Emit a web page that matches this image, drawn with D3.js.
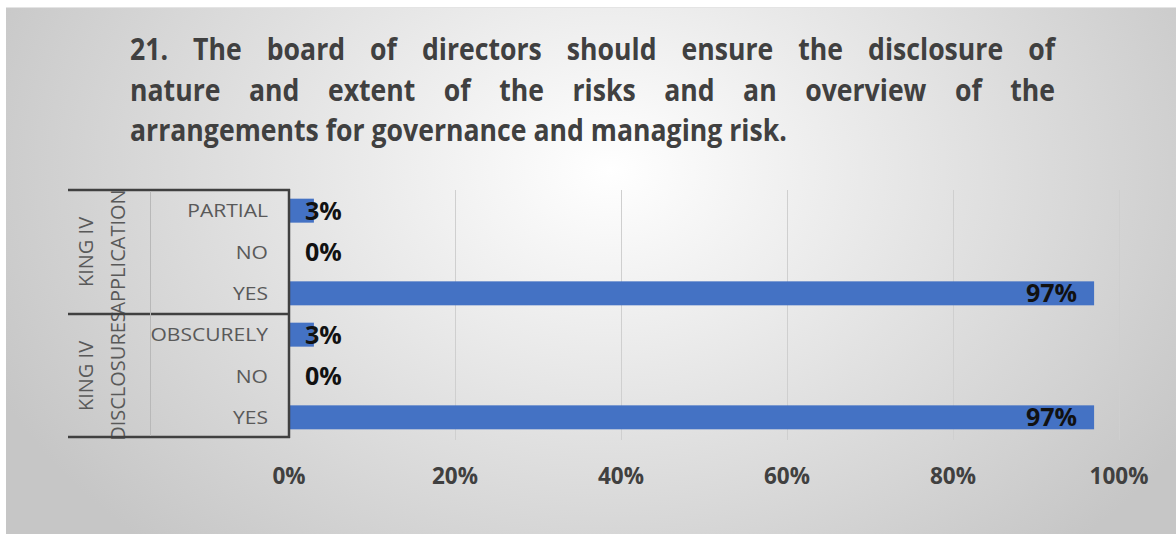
<!DOCTYPE html>
<html>
<head>
<meta charset="utf-8">
<script src="https://cdn.jsdelivr.net/npm/d3@7"></script>
<style>
  html, body { margin: 0; padding: 0; background: #ffffff; }
  svg { display: block; }
</style>
</head>
<body>
<svg id="chart" width="1176" height="534"></svg>
<script>
// Survey responses, grouped by King IV aspect (top to bottom as drawn)
const titleLines = [
  "21. The board of directors should ensure the disclosure of",
  "nature and extent of the risks and an overview of the",
  "arrangements for governance and managing risk."
];
const groups = ["KING IV APPLICATION", "KING IV DISCLOSURES"];
const groupLabelLines = [["KING IV", "APPLICATION"], ["KING IV", "DISCLOSURES"]];
const categories = ["PARTIAL", "NO", "YES", "OBSCURELY", "NO", "YES"];
const categoryGroup = [0, 0, 0, 1, 1, 1];
const values = [3, 0, 97, 3, 0, 97];
const tickValues = [0, 20, 40, 60, 80, 100];

const W = 1176, H = 534;
const FONT = "'Open Sans', 'DejaVu Sans', sans-serif";
const svg = d3.select("#chart");

// Background panel with a soft radial gradient
const defs = svg.append("defs");
const grad = defs.append("radialGradient")
  .attr("id", "bg").attr("gradientUnits", "userSpaceOnUse")
  .attr("cx", 610).attr("cy", 170).attr("r", 680)
  .attr("gradientTransform", "translate(610,170) scale(1,0.75) translate(-610,-170)");
grad.append("stop").attr("offset", "0%").attr("stop-color", "#ffffff");
grad.append("stop").attr("offset", "100%").attr("stop-color", "#c6c6c6");
svg.append("rect").attr("x", 6).attr("y", 7).attr("width", W - 6).attr("height", H - 7)
  .attr("fill", "url(#bg)");
svg.append("line").attr("x1", 6).attr("x2", W).attr("y1", 7.5).attr("y2", 7.5)
  .attr("stroke", "#e4e4e4");

// Title: last line sets the horizontal squeeze, first two lines are justified
const titleLeft = 130, titleRight = 1055, lastLineWidth = 657;
const titleBaselines = [60, 101, 141];
const titleNodes = titleLines.map((line, i) => svg.append("text")
  .attr("x", 0).attr("y", 0)
  .attr("font-family", FONT).attr("font-weight", "bold")
  .attr("font-size", 30).attr("fill", "#404040")
  .text(line));
const sx = lastLineWidth / titleNodes[titleNodes.length - 1].node().getComputedTextLength();
titleNodes.forEach((t, i) => {
  t.attr("transform", `translate(${titleLeft},${titleBaselines[i]}) scale(${sx},1)`);
  if (i < titleNodes.length - 1) {
    const natural = t.node().getComputedTextLength();
    const gaps = titleLines[i].split(" ").length - 1;
    t.attr("word-spacing", ((titleRight - titleLeft) / sx - natural) / gaps);
  }
});

// Scales
const x = d3.scaleLinear().domain([0, 100]).range([289, 1119]);
const y = d3.scaleBand().domain(d3.range(categories.length)).range([190, 438])
  .paddingInner(0.42).paddingOuter(0.21);

// Vertical gridlines
svg.append("g").selectAll("line").data(tickValues.slice(1)).join("line")
  .attr("x1", d => x(d) + 0.5).attr("x2", d => x(d) + 0.5)
  .attr("y1", 190).attr("y2", 440)
  .attr("stroke", "#cfcfcf").attr("stroke-width", 1);

// Bars
svg.append("g").selectAll("rect").data(values).join("rect")
  .attr("x", x(0) + 1)
  .attr("y", (d, i) => y(i))
  .attr("width", d => Math.max(0, x(d) - x(0) - 1))
  .attr("height", y.bandwidth())
  .attr("fill", "#4472C4");

// Value labels
svg.append("g").selectAll("text").data(values).join("text")
  .attr("x", d => d > 10 ? x(d) - 17 : x(0) + 16)
  .attr("y", (d, i) => y(i) + y.bandwidth() / 2 + 9)
  .attr("text-anchor", d => d > 10 ? "end" : "start")
  .attr("font-family", FONT).attr("font-weight", "bold")
  .attr("font-size", 25).attr("fill", "#111111")
  .text(d => d + "%");

// Category labels
svg.append("g").selectAll("text").data(categories).join("text")
  .attr("transform", (d, i) => `translate(268,${y(i) + y.bandwidth() / 2 + 6.5}) scale(1.17,1)`)
  .attr("text-anchor", "end")
  .attr("font-family", FONT)
  .attr("font-size", 18).attr("fill", "#595959")
  .text(d => d);

// Group labels, rotated
groups.forEach((g, gi) => {
  const idx = categoryGroup.map((c, i) => c === gi ? i : -1).filter(i => i >= 0);
  const top = y(idx[0]) - y.step() * y.paddingInner() / 2;
  const bot = y(idx[idx.length - 1]) + y.bandwidth() + y.step() * y.paddingInner() / 2;
  const cy = (top + bot) / 2;
  groupLabelLines[gi].forEach((ln, li) => {
    const bx = 93 + li * 32;
    svg.append("text")
      .attr("transform", `translate(${bx},${cy}) rotate(-90)`)
      .attr("text-anchor", "middle")
      .attr("font-family", FONT)
      .attr("font-size", 20).attr("fill", "#595959")
      .text(ln);
  });
});

// Category axis frame
const frame = svg.append("g").attr("stroke", "#404040").attr("stroke-width", 2.5);
[190, 314, 437].forEach(yy => {
  frame.append("line").attr("x1", 68).attr("x2", 290).attr("y1", yy).attr("y2", yy);
});
frame.append("line").attr("x1", 289).attr("x2", 289).attr("y1", 189).attr("y2", 438);
svg.append("line").attr("x1", 150.5).attr("x2", 150.5).attr("y1", 191).attr("y2", 436)
  .attr("stroke", "#b8b8b8").attr("stroke-width", 1);

// Value axis tick labels
svg.append("g").selectAll("text").data(tickValues).join("text")
  .attr("x", d => x(d))
  .attr("y", 484)
  .attr("text-anchor", "middle")
  .attr("font-family", FONT).attr("font-weight", "bold")
  .attr("font-size", 22.5).attr("fill", "#404040")
  .text(d => d + "%");
</script>
</body>
</html>
